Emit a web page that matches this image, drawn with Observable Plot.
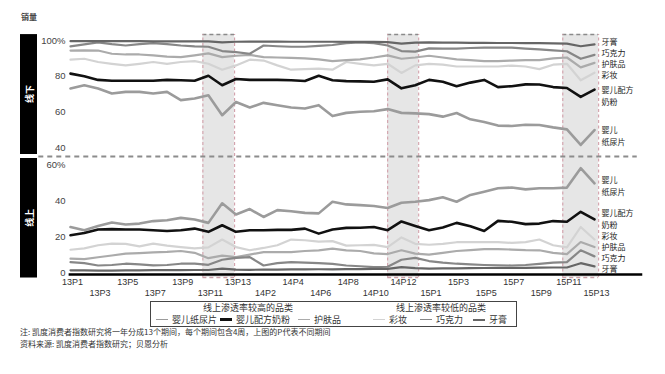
<!DOCTYPE html>
<html><head><meta charset="utf-8">
<script src="https://cdn.jsdelivr.net/npm/d3@7"></script>
<script src="https://cdn.jsdelivr.net/npm/@observablehq/plot@0.6"></script>
<style>
body{margin:0;background:#fff;}
#wrap{position:relative;width:665px;height:374px;overflow:hidden;font-family:"Noto Sans CJK SC","Liberation Sans",sans-serif;color:#333;}
#wrap svg{position:absolute;left:0;top:0;}
.abs{position:absolute;white-space:nowrap;}
</style></head><body><div id="wrap"></div><script>
const periods = ["13P1","13P2","13P3","13P4","13P5","13P6","13P7","13P8","13P9","13P10","13P11","13P12","13P13",
  "14P1","14P2","14P3","14P4","14P5","14P6","14P7","14P8","14P9","14P10","14P11","14P12","14P13",
  "15P1","15P2","15P3","15P4","15P5","15P6","15P7","15P8","15P9","15P10","15P11","15P12","15P13"];
const tickRow1 = ["13P1","13P5","13P9","13P13","14P4","14P8","14P12","15P3","15P7","15P11"];
const tickRow2 = ["13P3","13P7","13P11","14P2","14P6","14P10","15P1","15P5","15P9","15P13"];
const seriesNames = ["婴儿纸尿片","婴儿配方奶粉","护肤品","彩妆","巧克力","牙膏"];

// 线下 (offline share, %)
const offDiaper = [73.2,75,73.2,70.4,71.3,71.3,70.4,71.3,66.7,67.6,69.4,58.3,65.7,62.6,65.2,63.9,62.6,62,63.9,57.8,59.6,60.2,60.5,61.7,59.6,59.3,58.9,57.5,59.5,56,54.5,52.5,52.3,53,52.8,51.5,50.4,41.7,50];
const offFormula = [81.5,80,78,77.5,77.5,77.5,77.5,78,77.8,77.5,80.3,75,78.5,78,78,78,77.8,77.4,80.3,77.8,77.3,77.2,77,78.3,73.3,75,78,77,74.5,76.5,78,74,74.5,75.5,75.4,74,73.5,68.5,72.6];
const offSkincare = [94.4,94.5,94.4,92.6,92.2,92.2,91.7,91,90.7,91.7,92.8,90.7,91.5,92,90.7,90.5,90.3,90,89.5,88.5,89,89.5,90.5,91.7,89.8,90.5,91.5,90.5,89.5,89,88.5,88.5,88.8,89,89,90,90.5,85,87.5];
const offMakeup = [89.3,89.8,88,87,86.1,87,88,87,88,88.5,87,83.7,86.1,89.3,88.8,86.1,83.7,84,84.3,83.7,88,87,86.1,87,81.9,86.1,87,86.5,85.5,85.5,85.5,85.5,86,85.5,84,86.5,87,77.8,82];
const offChocolate = [96.7,97.8,99,98,97.2,98,98.5,98,97.2,96.7,96.5,94.1,93.5,92.6,97.2,96.8,96.5,96.5,97,97.5,98.5,99,98.5,97.2,94.1,93.8,95.6,95.5,95.5,95.8,96,96,96,95.5,95,94.5,94,89.8,92];
const offToothpaste = [99.6,99.6,99.6,99.6,99.6,99.6,99.5,99.5,99.5,99.5,99.5,98.9,99.3,99.4,99.4,99.4,99.3,99.3,99.3,99.3,99.2,99.2,99.2,99.1,98.3,98.8,98.9,98.8,98.8,98.7,98.7,98.6,98.6,98.5,98.5,98.4,98.3,96.8,97.8];

// 线上 (online share, %)
const onDiaper = [25.4,23.6,26,27.9,26.8,27.3,28.7,29.2,30.5,29.6,27.7,38.6,32.4,35.4,31,34.8,34.2,33.3,33,39.5,38,37.6,37.1,36,38.9,39.5,40.4,42,39.5,43.3,45.1,47,47.4,46.4,47,47,47.4,58.2,49.8];
const onFormula = [20.8,22,24,24.2,24,24,23.6,23.2,23.6,24.5,22.7,26.4,22.7,23.6,23.6,23.8,23.8,24.5,21.7,24,24.9,25,25.4,23.6,28.5,26,23.6,25.1,27.7,25.8,23.2,28.8,28.3,27,27.3,28.7,28.3,33.9,29.6];
const onSkincare = [7.7,7.5,8.5,9.5,10.5,10.8,11.2,11.5,12,11,8,9.4,8.6,10,11.4,11.4,11.4,12,12.4,13.3,12.4,12,10.7,10.3,12.4,10.5,10,11,12,12.5,13,13,12.8,12.5,12.4,11,10.3,17,14.2];
const onMakeup = [12.7,13.5,15.2,16.1,16,14.6,16.1,15,14.2,13.5,14,18.4,14.2,12.4,13.7,15.2,18.4,18,17.2,17.5,15,15.2,15.4,14.2,19.6,16,15.5,16,16.9,17,17,17,16.5,17,18.4,15.2,14,25.4,18.4];
const onChocolate = [5.8,5.2,3.9,4.2,4.9,4.5,4,4.2,4.9,5,4.3,7.1,8.2,8.6,3.9,5.2,5.8,5.5,5.2,4.8,3.9,3.5,3,3.2,7.1,8.2,6.4,5.5,4.9,4.5,4.2,4,3.9,4.2,4.8,5.5,5.8,12.4,9];
const onToothpaste = [1.2,1.2,1.1,1.1,1.2,1.2,1.3,1.3,1.3,1.4,1.4,2.2,1.6,1.5,1.6,1.6,1.7,1.7,1.8,1.8,1.9,1.9,2,2,3,2.4,2.2,2.3,2.3,2.4,2.5,2.5,2.6,2.6,2.7,2.8,2.8,5.2,3.4];

const upperTicks = [100, 80, 60, 40];
const lowerTicks = [60, 40, 20, 0];
// highlighted periods (fractional period positions)
const bandStarts = [9.6, 23.0, 35.7];
const bandEnds = [11.9, 25.25, 38.3];
// right-hand labels and their anchor values
const offLabels = ["牙膏","巧克力","护肤品","彩妆","婴儿配方\n奶粉","婴儿\n纸尿片"];
const offLabelAt = [99.7, 93.6, 87.4, 81.3, 69.3, 47];
const onLabels = ["婴儿\n纸尿片","婴儿配方\n奶粉","彩妆","护肤品","巧克力","牙膏"];
const onLabelAt = [48.8, 30.1, 20.6, 14.5, 8.4, 2.2];
const noteLines = ["注: 凯度消费者指数研究将一年分成13个期间，每个期间包含4周，上图的P代表不同期间", "资料来源: 凯度消费者指数研究；贝恩分析"];
const legendGroups = ["线上渗透率较高的品类", "线上渗透率较低的品类"];

// ---- styling / layout ----
const styleOf = {
  "婴儿纸尿片": {stroke: "#9b9b9b", w: 2.6, sw: 1.5},
  "婴儿配方奶粉": {stroke: "#111111", w: 2.6, sw: 3},
  "护肤品": {stroke: "#ababab", w: 2.2, sw: 1.5},
  "彩妆": {stroke: "#d3d3d3", w: 2.2, sw: 1.5},
  "巧克力": {stroke: "#878787", w: 2.2, sw: 1.5},
  "牙膏": {stroke: "#666666", w: 2.2, sw: 2}
};
const GAP = 29.5;          // offset of upper (线下) panel in the shared y scale
const SEP = 64.75;         // dashed separator between the panels
const TOP = 132.8, BOT = -2.8;

const offSeries = {"婴儿纸尿片": offDiaper, "婴儿配方奶粉": offFormula, "护肤品": offSkincare, "彩妆": offMakeup, "巧克力": offChocolate, "牙膏": offToothpaste};
const onSeries = {"婴儿纸尿片": onDiaper, "婴儿配方奶粉": onFormula, "护肤品": onSkincare, "彩妆": onMakeup, "巧克力": onChocolate, "牙膏": onToothpaste};
const drawOrder = ["彩妆","护肤品","巧克力","牙膏","婴儿纸尿片","婴儿配方奶粉"];

const bands = bandStarts.map((s, k) => ({s, e: bandEnds[k]}));
const bandEdges = bands.flatMap(b => [b.s, b.e]);
const font = "'Liberation Sans','Noto Sans CJK SC',sans-serif";
const cjk = "'Noto Sans CJK SC',sans-serif";

const marks = [
  Plot.rect(bands, {x1: "s", x2: "e", y1: BOT, y2: TOP, fill: "#e6e6e6"}),
  Plot.ruleY(bands, {y: TOP, x1: "s", x2: "e", stroke: "#8a8a8a", strokeWidth: 1.5, strokeDasharray: "4,3"}),
  Plot.ruleY(bands, {y: BOT, x1: "s", x2: "e", stroke: "#c9a0a8", strokeWidth: 1.5, strokeDasharray: "4,3"}),
  Plot.ruleX(bandEdges, {x: d => d, y1: BOT, y2: TOP, stroke: "#d2a0aa", strokeWidth: 1.1, strokeDasharray: "3,2.5"}),
  Plot.ruleY([SEP], {x1: -2.3, x2: 41.1, stroke: "#8c8c8c", strokeWidth: 2, strokeDasharray: "5,4"}),
  Plot.ruleY([0], {x1: -0.1, x2: 41.5, stroke: "#000", strokeWidth: 2.5, dy: 2})
];
for (const name of drawOrder) {
  const st = styleOf[name];
  marks.push(Plot.line(offSeries[name], {x: (d, i) => i, y: d => d + GAP, stroke: st.stroke, strokeWidth: st.w, strokeLinejoin: "round"}));
  marks.push(Plot.line(onSeries[name], {x: (d, i) => i, y: d => d, stroke: st.stroke, strokeWidth: st.w, strokeLinejoin: "round"}));
}
marks.push(
  Plot.text(upperTicks, {y: d => d + GAP, text: (d, i) => i === 0 ? d + "%" : String(d), frameAnchor: "left", textAnchor: "end", dx: -5, fill: "#444", fontSize: 9.5}),
  Plot.text(lowerTicks, {y: d => d, text: (d, i) => i === 0 ? d + "%" : String(d), frameAnchor: "left", textAnchor: "end", dx: -5, fill: "#444", fontSize: 9.5}),
  Plot.text(tickRow1, {x: d => periods.indexOf(d), text: d => d, frameAnchor: "bottom", lineAnchor: "top", dy: 6, dx: 2, fill: "#333", fontSize: 9}),
  Plot.text(tickRow2, {x: d => periods.indexOf(d), text: d => d, frameAnchor: "bottom", lineAnchor: "top", dy: 17, dx: 2, fill: "#333", fontSize: 9}),
  Plot.text(offLabels, {x: periods.length - 1, y: (d, i) => offLabelAt[i] + GAP, text: d => d, textAnchor: "start", dx: 7, fill: "#222", fontSize: 8, lineHeight: 1.45, fontFamily: cjk}),
  Plot.text(onLabels, {x: periods.length - 1, y: (d, i) => onLabelAt[i], text: d => d, textAnchor: "start", dx: 7, fill: "#222", fontSize: 8, lineHeight: 1.45, fontFamily: cjk})
);

const plot = Plot.plot({
  width: 665, height: 300,
  marginLeft: 70, marginRight: 71, marginTop: 40, marginBottom: 28,
  x: {domain: [0, periods.length - 1], axis: null},
  y: {domain: [0, 129.5], axis: null},
  style: {fontFamily: font, fontSize: "9px", background: "transparent", overflow: "visible"},
  marks
});
const wrap = document.getElementById("wrap");
wrap.appendChild(plot);

// side bars 线下 / 线上
const ys = plot.scale("y");
const svg = d3.select(plot);
const panels = [
  {label: "线下", y1: ys.apply(TOP), y2: ys.apply(SEP) - 2},
  {label: "线上", y1: ys.apply(SEP) + 2, y2: ys.apply(BOT) + 0.5}
];
const g = svg.insert("g", ":first-child");
for (const p of panels) {
  g.append("rect").attr("x", 20).attr("width", 17).attr("y", p.y1).attr("height", p.y2 - p.y1).attr("fill", "#000");
  const cy = (p.y1 + p.y2) / 2;
  g.append("text").attr("transform", `translate(29.5,${cy}) rotate(-90)`).attr("text-anchor", "middle")
    .attr("dominant-baseline", "central").attr("fill", "#fff").attr("font-size", 9).attr("font-weight", "bold")
    .attr("font-family", cjk).text(p.label);
}

// header
const h = document.createElement("div");
h.className = "abs"; h.style.cssText = "left:21px;top:11px;font-size:8px;font-weight:bold;color:#444;";
h.textContent = "销量"; wrap.appendChild(h);

// legend
const lg = document.createElement("div");
lg.className = "abs";
lg.style.cssText = "left:150px;top:301px;width:367px;height:26px;border:1px solid #444;box-sizing:border-box;font-size:9px;color:#333;";
wrap.appendChild(lg);
const groupCenters = [97, 290];
legendGroups.forEach((t, k) => {
  const d = document.createElement("div");
  d.className = "abs"; d.style.cssText = `left:${groupCenters[k]}px;top:0px;transform:translateX(-50%);line-height:11px;`;
  d.textContent = t; lg.appendChild(d);
});
const itemLefts = [5, 69, 147, 222, 269, 322];
seriesNames.forEach((name, k) => {
  const st = styleOf[name];
  const d = document.createElement("div");
  d.className = "abs"; d.style.cssText = `left:${itemLefts[k]}px;top:11.5px;line-height:12px;display:flex;align-items:center;`;
  const sw = document.createElement("span");
  sw.style.cssText = `display:inline-block;width:12px;height:${st.sw}px;background:${st.stroke};margin-right:4px;`;
  d.appendChild(sw);
  const tx = document.createElement("span"); tx.textContent = name; d.appendChild(tx);
  lg.appendChild(d);
});

// notes
noteLines.forEach((t, k) => {
  const d = document.createElement("div");
  d.className = "abs"; d.style.cssText = `left:20px;top:${327 + k * 12}px;font-size:8px;line-height:10px;color:#333;`;
  d.textContent = t; wrap.appendChild(d);
});
</script></body></html>
